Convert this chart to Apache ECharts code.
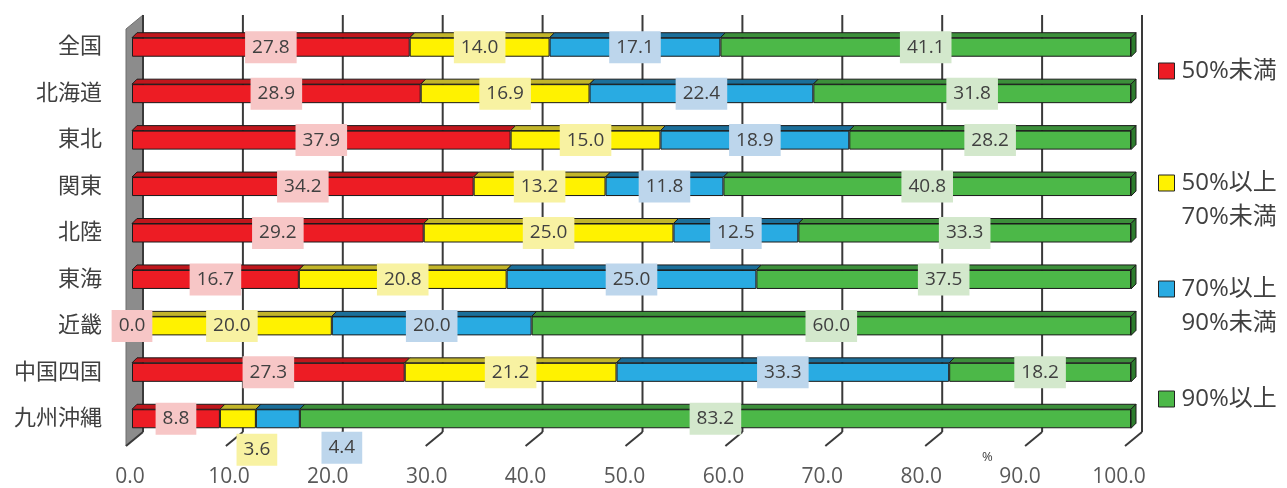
<!DOCTYPE html>
<html>
<head>
<meta charset="utf-8">
<script src="https://cdn.jsdelivr.net/npm/echarts@6/dist/echarts.min.js"></script>
<style>
  html, body { margin: 0; padding: 0; background: #fff; }
  #chart { width: 1287px; height: 488px; }
</style>
</head>
<body>
<div id="chart"></div>
<script>
// 地域区分
const regions = ['全国', '北海道', '東北', '関東', '北陸', '東海', '近畿', '中国四国', '九州沖縄']
// 区分ごとの割合(%)
const under50 = [27.8, 28.9, 37.9, 34.2, 29.2, 16.7, 0.0, 27.3, 8.8]
const from50to70 = [14.0, 16.9, 15.0, 13.2, 25.0, 20.8, 20.0, 21.2, 3.6]
const from70to90 = [17.1, 22.4, 18.9, 11.8, 12.5, 25.0, 20.0, 33.3, 4.4]
const over90 = [41.1, 31.8, 28.2, 40.8, 33.3, 37.5, 60.0, 18.2, 83.2]
const seriesNames = ['50%未満', '50%以上\n70%未満', '70%以上\n90%未満', '90%以上']
const xTicks = [0, 10, 20, 30, 40, 50, 60, 70, 80, 90, 100]

const FONT = "'Open Sans', 'Noto Sans CJK JP', sans-serif"
const TEXT = '#404040'
const frontColor = ['#ed1c24', '#fff200', '#29abe2', '#4cb848']
const topColor = ['#c0161c', '#c2b52a', '#1b6f9a', '#3c8f3a']
const labelBg = ['#f7c6c6', '#f8f2a2', '#bdd6ec', '#d3e8cc']
const BAR_W = 19
const D = 5

// 九州沖縄 の小さい値はバーの下に表示
const labelShift = { 8: { 1: [19, 31], 2: [64, 29] } }

const groups = [under50, from50to70, from70to90, over90]

// 上面用データ [start, end, 地域index, 区分index]
const topData = []
regions.forEach((r, i) => {
  let acc = 0
  groups.forEach((g, s) => {
    topData.push([acc, acc + g[i], i, s])
    acc += g[i]
  })
})

function renderTop(params, api) {
  const s = api.value(3)
  const p0 = api.coord([api.value(0), api.value(2)])
  const p1 = api.coord([api.value(1), api.value(2)])
  const yT = p0[1] - BAR_W / 2
  const yB = p0[1] + BAR_W / 2
  const children = [{
    type: 'polygon',
    shape: { points: [[p0[0], yT], [p0[0] + D, yT - D], [p1[0] + D, yT - D], [p1[0], yT]] },
    style: { fill: topColor[s], stroke: '#1a1a1a', lineWidth: 1 }
  }]
  if (s === 3) {
    children.push({
      type: 'polygon',
      shape: { points: [[p1[0], yT], [p1[0] + D, yT - D], [p1[0] + D, yB - D], [p1[0], yB]] },
      style: { fill: '#2e7d2e', stroke: '#1a1a1a', lineWidth: 1 }
    })
  }
  return { type: 'group', children }
}

function renderBack(params, api) {
  const cs = params.coordSys
  const x = api.coord([api.value(0), 0])[0] + 11
  const yTop = cs.y - 9
  const yBot = cs.y + cs.height - 10
  const children = [
    { type: 'line', shape: { x1: x, y1: yTop, x2: x, y2: yBot }, style: { stroke: '#3a3a3a', lineWidth: 2 } },
    { type: 'line', shape: { x1: x, y1: yBot, x2: x - 17, y2: yBot + 14 }, style: { stroke: '#3a3a3a', lineWidth: 2 } }
  ]
  if (api.value(0) === 0) {
    children.unshift({
      type: 'polygon',
      shape: { points: [[x - 17, yTop + 14], [x, yTop], [x, yBot], [x - 17, yBot + 14]] },
      style: { fill: '#8c8c8c', stroke: '#6e6e6e', lineWidth: 1 }
    })
  }
  return { type: 'group', children }
}

const chart = echarts.init(document.getElementById('chart'))

const legendTops = [54, 132, 238, 382]

const option = {
  animation: false,
  grid: [
    { left: 132, right: 156, top: 24, bottom: 46 },
    { left: 130, right: 168, top: 24, bottom: 46 }
  ],
  xAxis: [
    { type: 'value', gridIndex: 0, min: 0, max: 100, interval: 10, axisLine: { show: false }, axisTick: { show: false }, axisLabel: { show: false }, splitLine: { show: false } },
    {
      type: 'value', gridIndex: 1, min: 0, max: 100, interval: 10,
      axisLine: { show: false }, axisTick: { show: false }, splitLine: { show: false },
      axisLabel: { formatter: v => v.toFixed(1), fontSize: 21, color: '#595959', fontFamily: FONT, margin: 25 }
    }
  ],
  yAxis: [
    {
      type: 'category', gridIndex: 0, data: regions, inverse: true,
      axisLine: { show: false }, axisTick: { show: false },
      axisLabel: { fontSize: 22, color: TEXT, fontFamily: FONT, margin: 30 }
    },
    { type: 'category', gridIndex: 1, data: regions, inverse: true, show: false }
  ],
  legend: seriesNames.map((n, k) => ({
    data: [n],
    orient: 'vertical',
    left: 1158,
    top: legendTops[k],
    padding: 0,
    itemWidth: 16,
    itemHeight: 16,
    icon: 'rect',
    selectedMode: false,
    // 2行の凡例は1行目をアイコンに揃える
    formatter: name => (name.includes('\n') ? ' \n' + name : name),
    itemStyle: { borderColor: '#222', borderWidth: 1 },
    textStyle: { fontSize: 24, color: TEXT, fontFamily: FONT, lineHeight: 34, padding: [0, 0, 0, 2] }
  })),
  graphic: [
    { type: 'text', left: 982, top: 451, style: { text: '%', fontSize: 13, fill: TEXT, fontFamily: FONT } }
  ],
  series: [
    {
      type: 'custom', name: 'back', xAxisIndex: 0, yAxisIndex: 0, silent: true, z: 1,
      renderItem: renderBack, encode: { x: 0 },
      data: xTicks.map(v => [v])
    },
    {
      type: 'custom', name: 'top', xAxisIndex: 0, yAxisIndex: 0, silent: true, z: 2,
      renderItem: renderTop, encode: { x: [0, 1], y: 2 },
      data: topData
    },
    ...groups.map((g, s) => ({
      name: seriesNames[s],
      type: 'bar',
      stack: 'total',
      xAxisIndex: 0, yAxisIndex: 0,
      barWidth: BAR_W,
      z: 3,
      itemStyle: { color: frontColor[s], borderColor: '#1a1a1a', borderWidth: 1 },
      label: {
        show: true,
        position: 'inside',
        formatter: p => p.value.toFixed(1),
        fontSize: 19,
        lineHeight: 24,
        fontFamily: FONT,
        color: TEXT,
        backgroundColor: labelBg[s],
        padding: [4, 7]
      },
      data: g.map((v, i) => {
        const off = labelShift[i] && labelShift[i][s]
        return off ? { value: v, label: { offset: off } } : v
      })
    }))
  ]
}

chart.setOption(option)
</script>
</body>
</html>
